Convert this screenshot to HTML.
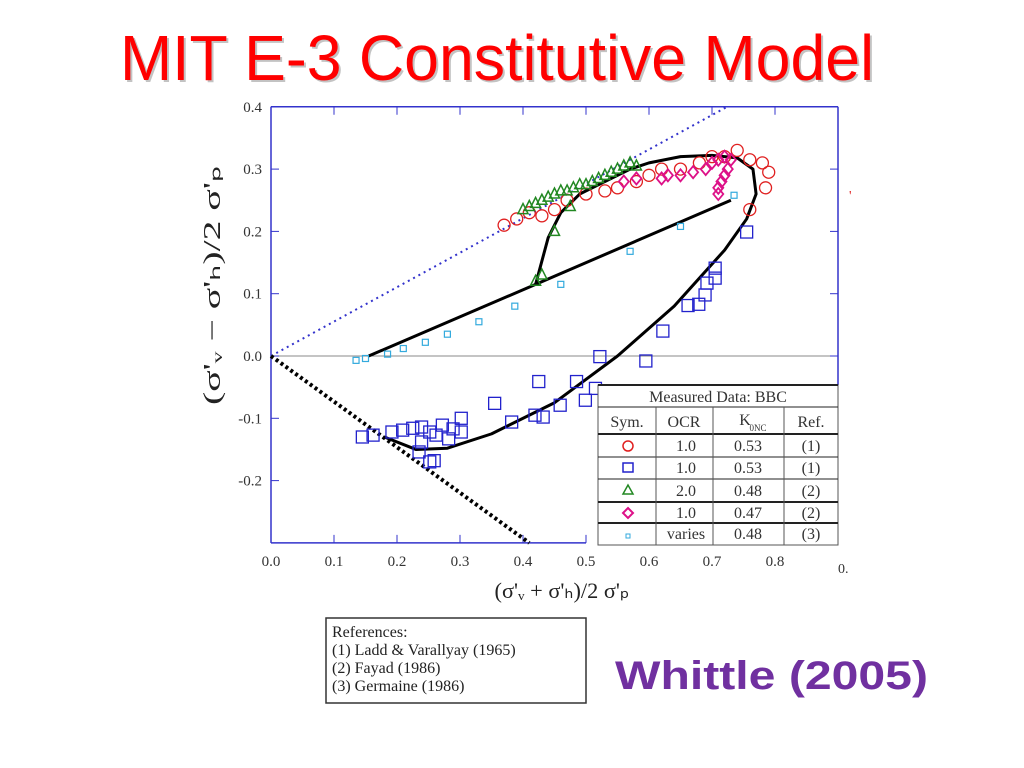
<!DOCTYPE html>
<html><head><meta charset="utf-8"><style>
html,body{margin:0;padding:0;background:#fff}
svg{display:block}
text{font-family:"Liberation Serif",serif}
</style></head><body>
<svg id="s" width="1024" height="768" viewBox="0 0 1024 768" xmlns="http://www.w3.org/2000/svg">
<text x="122" y="82" font-size="64" fill="#888" opacity="0.5" textLength="754" lengthAdjust="spacingAndGlyphs" style="font-family:'Liberation Sans',sans-serif">MIT E-3 Constitutive Model</text>
<text x="120" y="80" font-size="64" fill="#ff0000" textLength="754" lengthAdjust="spacingAndGlyphs" style="font-family:'Liberation Sans',sans-serif">MIT E-3 Constitutive Model</text>
<g id="plot"></g>
<text x="615" y="689" font-size="40" font-weight="bold" fill="#7030a0" textLength="313" lengthAdjust="spacingAndGlyphs" style="font-family:'Liberation Sans',sans-serif">Whittle (2005)</text>
<g>
<rect x="326" y="618" width="260" height="85" fill="#fff" stroke="#333" stroke-width="1.5"/>
<text x="332" y="637" font-size="16" fill="#222">References:</text>
<text x="332" y="655" font-size="16" fill="#222">(1) Ladd &amp; Varallyay (1965)</text>
<text x="332" y="673" font-size="16" fill="#222">(2) Fayad (1986)</text>
<text x="332" y="691" font-size="16" fill="#222">(3) Germaine (1986)</text>
</g>
<text x="838" y="573" font-size="14" fill="#333">0.</text>
</svg>
<script>
const xTicks=[0,0.1,0.2,0.3,0.4,0.5,0.6,0.7,0.8];
const yTicks=[-0.2,-0.1,0,0.1,0.2,0.3,0.4];
const redCircles=[[0.37,0.21],[0.39,0.22],[0.41,0.23],[0.43,0.225],[0.45,0.235],[0.47,0.25],[0.5,0.26],[0.53,0.265],[0.55,0.27],[0.58,0.28],[0.6,0.29],[0.62,0.3],[0.65,0.3],[0.68,0.31],[0.7,0.32],[0.72,0.32],[0.74,0.33],[0.76,0.315],[0.78,0.31],[0.79,0.295],[0.785,0.27],[0.76,0.235]];
const blueSquares=[[0.145,-0.13],[0.162,-0.127],[0.192,-0.122],[0.209,-0.119],[0.225,-0.116],[0.239,-0.114],[0.239,-0.138],[0.252,-0.122],[0.262,-0.127],[0.272,-0.111],[0.282,-0.133],[0.289,-0.117],[0.302,-0.1],[0.302,-0.122],[0.355,-0.076],[0.382,-0.106],[0.419,-0.095],[0.425,-0.041],[0.432,-0.098],[0.459,-0.079],[0.485,-0.041],[0.499,-0.071],[0.515,-0.052],[0.522,-0.001],[0.595,-0.008],[0.622,0.04],[0.662,0.081],[0.679,0.083],[0.689,0.098],[0.692,0.117],[0.705,0.141],[0.705,0.125],[0.755,0.199],[0.252,-0.17],[0.259,-0.168],[0.235,-0.154]];
const greenTriangles=[[0.43,0.13],[0.42,0.12],[0.45,0.2],[0.475,0.24],[0.4,0.235],[0.41,0.24],[0.42,0.245],[0.43,0.25],[0.44,0.255],[0.45,0.26],[0.46,0.265],[0.47,0.265],[0.48,0.27],[0.49,0.275],[0.5,0.275],[0.51,0.28],[0.52,0.285],[0.53,0.29],[0.54,0.295],[0.55,0.3],[0.56,0.305],[0.57,0.31],[0.58,0.305]];
const magentaDiamonds=[[0.56,0.28],[0.58,0.285],[0.62,0.285],[0.63,0.29],[0.65,0.29],[0.67,0.295],[0.69,0.3],[0.7,0.31],[0.71,0.315],[0.72,0.32],[0.73,0.315],[0.725,0.3],[0.72,0.29],[0.715,0.28],[0.71,0.27],[0.71,0.26]];
const cyanSquares=[[0.135,-0.007],[0.15,-0.004],[0.185,0.003],[0.21,0.012],[0.245,0.022],[0.28,0.035],[0.33,0.055],[0.387,0.08],[0.46,0.115],[0.57,0.168],[0.65,0.208],[0.735,0.258]];
const kLine=[[0,0],[0.724,0.4]];
const failLine=[[0,0],[0.41,-0.3]];
const loadPath=[[0.155,0],[0.42,0.115],[0.73,0.25]];
const branchPath=[[0.42,0.115],[0.44,0.19],[0.46,0.23],[0.49,0.26],[0.53,0.28],[0.57,0.3]];
const loopPath=[[0.18,-0.13],[0.23,-0.15],[0.28,-0.148],[0.35,-0.125],[0.45,-0.075],[0.55,0],[0.64,0.08],[0.72,0.17],[0.755,0.22],[0.77,0.26],[0.765,0.3],[0.74,0.318],[0.7,0.322],[0.65,0.32],[0.6,0.31],[0.57,0.3]];

const NS="http://www.w3.org/2000/svg";
const g=document.getElementById('plot');
const X=v=>271+v*630, Y=v=>356-v*623;
function mk(t,a,p){const e=document.createElementNS(NS,t);for(const k in a)e.setAttribute(k,a[k]);(p||g).appendChild(e);return e;}
let e;
e=mk('line',{x1:X(0),y1:Y(0.4),x2:838,y2:Y(0.4),stroke:'#3333cc','stroke-width':1.5});


e=mk('line',{x1:838,y1:Y(0.4),x2:838,y2:385,stroke:'#3333cc','stroke-width':1.5});


e=mk('line',{x1:X(0),y1:Y(0.4),x2:X(0),y2:Y(-0.3),stroke:'#3333cc','stroke-width':1.5});


e=mk('line',{x1:X(0),y1:Y(-0.3),x2:X(0.5),y2:Y(-0.3),stroke:'#3333cc','stroke-width':1.5});


e=mk('line',{x1:X(0),y1:Y(0),x2:838,y2:Y(0),stroke:'#888','stroke-width':1});


xTicks.forEach(t=>{
 if(t<=0.5){e=mk('line',{x1:X(t),y1:Y(-0.3),x2:X(t),y2:Y(-0.3)-8,stroke:'#3333cc'});}
 e=mk('line',{x1:X(t),y1:Y(0.4),x2:X(t),y2:Y(0.4)+8,stroke:'#3333cc'});
 
 
 e=mk('text',{x:X(t),y:566,'font-size':15,fill:'#333','text-anchor':'middle'});e.textContent=t.toFixed(1);
 
 
});
yTicks.forEach(t=>{
 e=mk('line',{x1:X(0),y1:Y(t),x2:X(0)+8,y2:Y(t),stroke:'#3333cc'});
 
 
 e=mk('line',{x1:838,y1:Y(t),x2:830,y2:Y(t),stroke:'#3333cc'});
 
 
 e=mk('text',{x:262,y:Y(t)+5,'font-size':15,fill:'#333','text-anchor':'end'});e.textContent=t.toFixed(1);
 
 
});
e=mk('text',{x:562,y:598,'font-size':22,fill:'#222','text-anchor':'middle',textLength:135,lengthAdjust:'spacingAndGlyphs'});
e.textContent="(σ'ᵥ + σ'ₕ)/2 σ'ₚ";


e=mk('text',{x:0,y:0,'font-size':24,fill:'#222','text-anchor':'middle',transform:'translate(220,285) rotate(-90)',textLength:240,lengthAdjust:'spacingAndGlyphs'});
e.textContent="(σ'ᵥ − σ'ₕ)/2 σ'ₚ";


const pts=a=>a.map(p=>X(p[0])+','+Y(p[1])).join(' ');
e=mk('polyline',{points:pts(kLine),fill:'none',stroke:'#3333cc','stroke-width':2,'stroke-dasharray':'2,4'});


e=mk('polyline',{points:pts(failLine),fill:'none',stroke:'#000','stroke-width':4,'stroke-dasharray':'3,3'});


[[loadPath,'model-loading-path'],[branchPath,'model-branch-path'],[loopPath,'model-unloading-loop']].forEach(([a,n])=>{
 e=mk('polyline',{points:pts(a),fill:'none',stroke:'#000','stroke-width':3,'stroke-linejoin':'round'});
 
 
});
cyanSquares.forEach(p=>{e=mk('rect',{x:X(p[0])-3,y:Y(p[1])-3,width:6,height:6,fill:'none',stroke:'#33aadd','stroke-width':1.2});
 
 });
blueSquares.forEach(p=>{e=mk('rect',{x:X(p[0])-6,y:Y(p[1])-6,width:12,height:12,fill:'none',stroke:'#2222cc','stroke-width':1.3});
 
 });
redCircles.forEach(p=>{e=mk('circle',{cx:X(p[0]),cy:Y(p[1]),r:6,fill:'none',stroke:'#e02020','stroke-width':1.3});
 
 });
greenTriangles.forEach(p=>{const x=X(p[0]),y=Y(p[1]);e=mk('polygon',{points:`${x},${y-6} ${x-5},${y+4} ${x+5},${y+4}`,fill:'none',stroke:'#228822','stroke-width':1.5});
 
 });
magentaDiamonds.forEach(p=>{const x=X(p[0]),y=Y(p[1]);e=mk('polygon',{points:`${x},${y-6} ${x+5},${y} ${x},${y+6} ${x-5},${y}`,fill:'none',stroke:'#dd1188','stroke-width':1.8});
 
 });
const lg=mk('g',{});


mk('rect',{x:598,y:385,width:240,height:160,fill:'#fff',stroke:'#555','stroke-width':1},lg);
[[407,1],[434,2],[457,1],[479,1],[502,2],[523,2]].forEach(([y,w])=>mk('line',{x1:598,y1:y,x2:838,y2:y,stroke:'#222','stroke-width':w},lg));
mk('line',{x1:598,y1:385,x2:838,y2:385,stroke:'#222','stroke-width':2},lg);
[656,713,784].forEach(x=>mk('line',{x1:x,y1:407,x2:x,y2:545,stroke:'#555'},lg));
function tx(x,y,s,fs){const t=mk('text',{x:x,y:y,'font-size':fs||16,fill:'#333','text-anchor':'middle'},lg);t.textContent=s;return t;}
tx(718,402,'Measured Data: BBC');
tx(627,427,'Sym.');tx(684,427,'OCR');tx(811,427,'Ref.');
tx(745,425,'K');tx(758,431,'0NC',9);
const rowsOCR=['1.0','1.0','2.0','1.0','varies'], rowsK=['0.53','0.53','0.48','0.47','0.48'], rowsRef=['(1)','(1)','(2)','(2)','(3)'];
const ry=[451,473,496,518,539];
rowsOCR.forEach((v,i)=>{tx(686,ry[i],v);tx(748,ry[i],rowsK[i]);tx(811,ry[i],rowsRef[i]);});
mk('circle',{cx:628,cy:446,r:5,fill:'none',stroke:'#e02020','stroke-width':1.5},lg);
mk('rect',{x:623,y:463,width:10,height:9,fill:'none',stroke:'#2222cc','stroke-width':1.5},lg);
mk('polygon',{points:'628,485 623,494 633,494',fill:'none',stroke:'#228822','stroke-width':1.5},lg);
mk('polygon',{points:'628,508 633,513 628,518 623,513',fill:'none',stroke:'#dd1188','stroke-width':2},lg);
mk('rect',{x:626,y:534,width:4,height:4,fill:'none',stroke:'#33aadd'},lg);
e=mk('text',{x:849,y:200,'font-size':14,fill:'#e02020'});e.textContent="'";


</script>
</body></html>
